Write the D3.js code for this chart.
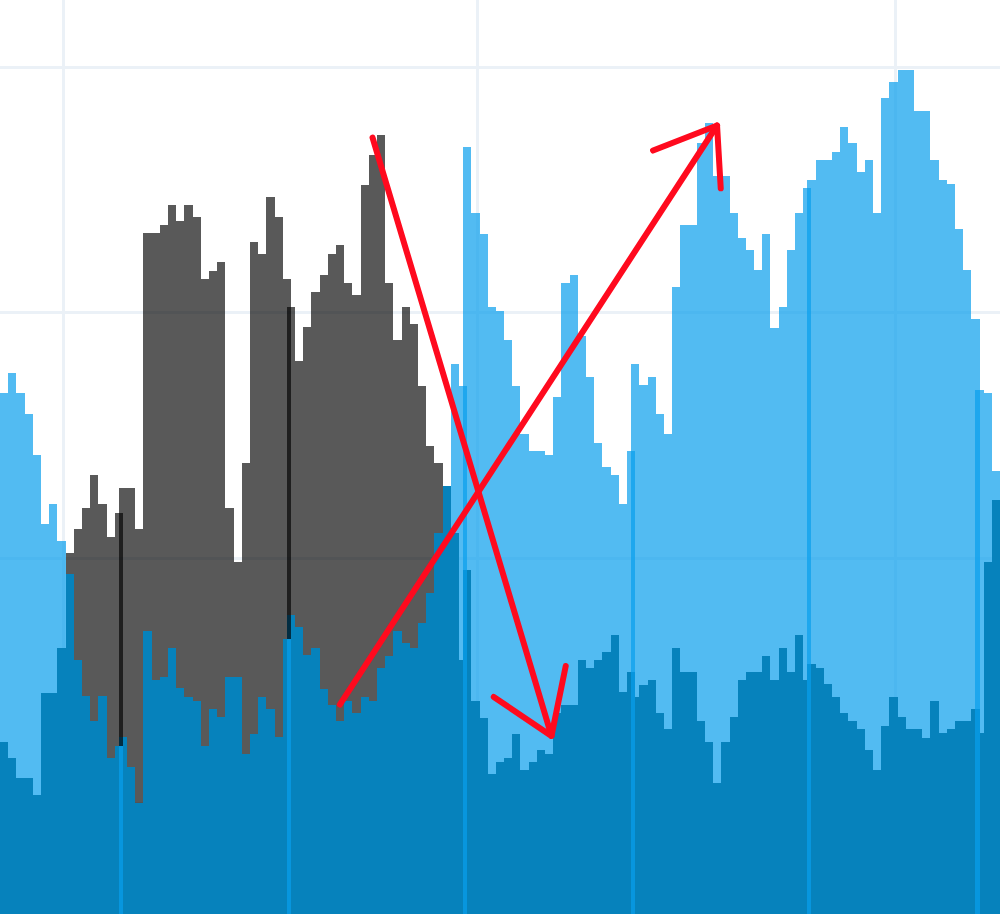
<!DOCTYPE html>
<html>
<head>
<meta charset="utf-8">
<title>bars</title>
<script src="https://cdn.jsdelivr.net/npm/d3@7"></script>
<style>
    body { margin: 0; background: #fff; overflow: hidden; }
    svg { display: block; }
</style>
</head>
<body>
<div class="chart"></div>
<script>
// lower (dark) series, one value per bar
var lowerValues = [
    125.3, 118.6, 110.3, 110.3, 103.6, 145.3, 145.3, 163.6, 193.7, 158.5,
    143.7, 133.8, 143.7, 118.6, 123.4, 127.0, 115.1, 100.4, 170.2, 150.3,
    151.8, 163.6, 147.0, 143.6, 142.0, 123.6, 138.5, 135.4, 151.7, 151.7,
    120.4, 128.5, 143.6, 138.4, 127.0, 167.0, 176.9, 171.9, 160.4, 163.6,
    146.9, 140.2, 133.7, 141.8, 136.9, 143.5, 141.8, 155.3, 160.3, 170.2,
    165.3, 163.6, 173.5, 185.7, 210.5, 229.3, 210.5, 158.7, 195.2, 141.7,
    135.0, 112.1, 116.9, 118.6, 128.4, 113.6, 116.9, 121.9, 120.2, 136.8,
    140.2, 140.2, 158.5, 155.4, 158.5, 161.9, 168.6, 145.4, 153.7, 143.6,
    148.5, 150.3, 136.8, 130.3, 163.6, 153.7, 153.7, 133.7, 125.1, 108.5,
    125.1, 135.2, 150.3, 153.7, 153.7, 160.2, 150.3, 163.6, 153.7, 168.6,
    150.3, 156.9, 155.2, 148.6, 143.6, 136.9, 133.7, 130.3, 121.9, 113.6,
    131.8, 143.5, 135.2, 130.3, 130.3, 126.9, 141.9, 128.6, 130.3, 133.7,
    133.7, 138.6, 128.8, 198.6, 223.8
];

// upper (light / highlighted) series
var upperValues = [
    267.2, 275.5, 267.2, 258.9, 242.1, 213.9, 222.1, 207.1, 202.0, 211.9,
    220.3, 233.8, 222.1, 208.7, 218.6, 228.7, 228.7, 211.9, 332.4, 332.4,
    335.7, 344.0, 337.3, 344.0, 339.1, 314.0, 317.3, 320.8, 220.3, 198.6,
    238.9, 329.0, 324.1, 347.4, 339.1, 314.0, 302.3, 280.6, 294.1, 308.7,
    315.6, 324.1, 327.5, 312.2, 307.3, 352.3, 364.2, 372.5, 312.2, 288.9,
    302.3, 295.4, 270.3, 245.6, 238.9, 229.3, 279.0, 270.3, 367.6, 340.6,
    332.3, 302.4, 300.6, 288.9, 270.3, 250.6, 243.9, 243.9, 242.1, 265.6,
    312.2, 315.6, 290.5, 274.0, 247.1, 237.3, 233.8, 222.3, 243.9, 279.1,
    270.6, 274.0, 258.8, 250.5, 310.7, 335.7, 335.7, 369.1, 377.3, 355.8,
    355.8, 340.9, 330.7, 325.7, 317.4, 332.3, 293.7, 302.4, 325.7, 340.9,
    350.8, 354.1, 362.3, 362.3, 365.7, 375.8, 369.1, 357.4, 362.3, 340.9,
    387.5, 394.1, 399.1, 399.1, 382.4, 382.4, 362.3, 354.1, 352.4, 334.1,
    317.4, 297.4, 268.6, 267.2, 235.6
];

// bars where a new period starts half a slot early
var periodBreaks = [15, 36, 58, 79, 101, 122];
// first and last bar of the grey selection
var highlightRange = [8, 55];
// grid positions (x in slots, y in values)
var gridSlots = [7.72, 58.25, 109.3];
var gridValues = [100, 200, 300, 400];
// red annotation strokes, [slot, value] points
var arrowLines = [
    [[45.45, 371.5], [67.28, 127.6]],
    [[60.24, 143.5], [67.28, 127.6], [69.02, 156.1]],
    [[41.46, 140.4], [87.48, 376.4]],
    [[79.67, 366.2], [87.48, 376.4], [87.93, 350.8]]
];

var w = 1000;
var h = 914;

function slotOf(i) {
    var k = periodBreaks.filter(function (b) {
        return b <= i;
    }).length;
    return i - 0.5 * k;
}

var bars = lowerValues.map(function (d, i) {
    return {
        lower: d,
        upper: upperValues[i],
        slot: slotOf(i),
        highlight: i >= highlightRange[0] && i <= highlightRange[1]
    };
});

var x = d3.scaleLinear().domain([0, 122]).range([0, w]);
var y = d3.scaleLinear().domain([0, 400]).range([1049, 67.6]);
var barW = x(1) - x(0);

var svg = d3.select(".chart").append("svg")
    .attr("width", w)
    .attr("height", h);

//grid goes under everything
var grid = svg.append("g").attr("shape-rendering", "crispEdges");
grid.selectAll(".gx")
    .data(gridSlots)
    .enter()
    .append("line")
    .attr("x1", function (d) { return x(d); })
    .attr("x2", function (d) { return x(d); })
    .attr("y1", 0)
    .attr("y2", h)
    .attr("stroke", "#ebf1f7")
    .attr("stroke-width", 3);
grid.selectAll(".gy")
    .data(gridValues)
    .enter()
    .append("line")
    .attr("x1", 0)
    .attr("x2", w)
    .attr("y1", function (d) { return y(d); })
    .attr("y2", function (d) { return y(d); })
    .attr("stroke", "#ebf1f7")
    .attr("stroke-width", 3);

//dark base bars, opaque
svg.append("g")
    .attr("shape-rendering", "crispEdges")
    .selectAll("rect")
    .data(bars)
    .enter()
    .append("rect")
    .attr("x", function (d) { return x(d.slot); })
    .attr("width", barW)
    .attr("y", function (d) { return y(d.lower); })
    .attr("height", function (d) { return y(0) - y(d.lower); })
    .attr("fill", "#00414b");

//light blue bars, see-through so overlaps show
svg.append("g")
    .attr("shape-rendering", "crispEdges")
    .selectAll("rect")
    .data(bars)
    .enter()
    .append("rect")
    .attr("x", function (d) { return x(d.slot); })
    .attr("width", barW)
    .attr("y", function (d) { return y(d.highlight ? d.lower : d.upper); })
    .attr("height", function (d) { return y(0) - y(d.highlight ? d.lower : d.upper); })
    .attr("fill", "#089eec")
    .attr("fill-opacity", 0.7);

//grey selection sits on top of the dark bars
svg.append("g")
    .attr("shape-rendering", "crispEdges")
    .selectAll("rect")
    .data(bars.filter(function (d) { return d.highlight; }))
    .enter()
    .append("rect")
    .attr("x", function (d) { return x(d.slot); })
    .attr("width", barW)
    .attr("y", function (d) { return y(d.upper); })
    .attr("height", function (d) { return Math.max(0, y(d.lower) - y(d.upper)); })
    .attr("fill", "#000")
    .attr("fill-opacity", 0.65);

var line = d3.line()
    .x(function (d) { return x(d[0]); })
    .y(function (d) { return y(d[1]); });

svg.append("g")
    .selectAll("path")
    .data(arrowLines)
    .enter()
    .append("path")
    .attr("d", line)
    .attr("fill", "none")
    .attr("stroke", "#ff0a1e")
    .attr("stroke-width", 6)
    .attr("stroke-linecap", "round")
    .attr("stroke-linejoin", "round");
</script>
</body>
</html>
